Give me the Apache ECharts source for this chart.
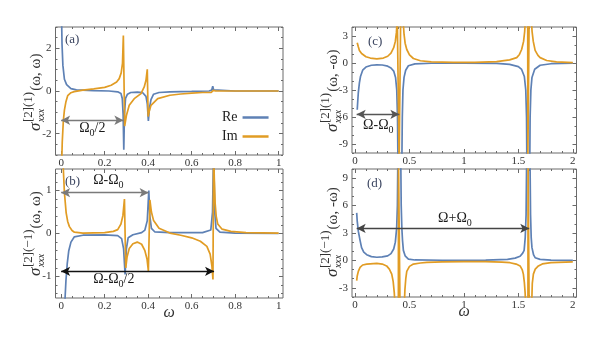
<!DOCTYPE html>
<html><head><meta charset="utf-8">
<script src="https://cdn.jsdelivr.net/npm/echarts@6/dist/echarts.min.js"></script>
<style>html,body{margin:0;padding:0;background:#fff}#c{width:612px;height:339px}</style>
</head><body><div id="c"></div>
<script>
// ---------------- data ----------------
const xTicksAB=[0,0.2,0.4,0.6,0.8,1], xLabelsAB=['0','0.2','0.4','0.6','0.8','1'];
const xTicksCD=[0,0.5,1,1.5,2], xLabelsCD=['0','0.5','1','1.5','2'];
const yTicksA=[-2,0,2], yLabelsA=['-2','0','2'];
const yTicksB=[-1,0,1], yLabelsB=['-1','0','1'];
const yTicksC=[-9,-6,-3,0,3], yLabelsC=['-9','-6','-3','0','3'];
const yTicksD=[-3,0,3,6,9], yLabelsD=['-3','0','3','6','9'];
const seriesNames=['Re','Im'];

const aRe=[[0.001,4],[0.004,2.2],[0.008,1.2],[0.015,0.55],[0.025,0.3],[0.045,0.11],[0.07,0.05],[0.15,0.02],[0.22,0],[0.26,-0.04],[0.275,-0.12],[0.281,-0.35],[0.285,-1.1],[0.288,-2.75],[0.291,-1.1],[0.296,-0.35],[0.305,-0.15],[0.32,-0.07],[0.35,-0.05],[0.375,-0.08],[0.39,-0.25],[0.396,-0.6],[0.401,-1.4],[0.406,-0.8],[0.413,-0.4],[0.425,-0.15],[0.45,-0.07],[0.5,-0.04],[0.6,-0.02],[0.68,0],[0.692,0.04],[0.697,0.22],[0.701,0.05],[0.708,0.01],[0.8,0],[1.0,0]];
const aIm=[[0.001,-4],[0.005,-2.4],[0.01,-1.4],[0.015,-0.9],[0.022,-0.5],[0.03,-0.22],[0.045,-0.08],[0.06,-0.03],[0.1,0.04],[0.15,0.1],[0.2,0.17],[0.23,0.27],[0.255,0.42],[0.267,0.58],[0.276,0.85],[0.282,1.3],[0.286,2.6],[0.292,-1.65],[0.3,-1.15],[0.313,-0.67],[0.336,-0.36],[0.367,-0.12],[0.382,0.19],[0.39,0.5],[0.396,1.02],[0.4,-1.2],[0.405,-0.95],[0.413,-0.67],[0.444,-0.36],[0.5,-0.2],[0.55,-0.14],[0.6,-0.1],[0.65,-0.07],[0.69,-0.06],[0.696,-0.15],[0.7,0.03],[0.71,0],[1.0,0]];

const bRe=[[0.008,-3],[0.012,-2],[0.018,-1.5],[0.022,-1.1],[0.028,-0.7],[0.035,-0.4],[0.045,-0.2],[0.06,-0.08],[0.1,-0.04],[0.2,-0.03],[0.26,-0.05],[0.278,-0.12],[0.287,-0.35],[0.294,-0.95],[0.3,-0.35],[0.308,-0.1],[0.33,-0.03],[0.37,0.02],[0.385,0.08],[0.396,0.3],[0.403,1.0],[0.408,0.4],[0.415,0.12],[0.43,0.04],[0.5,0.02],[0.65,0.02],[0.688,0.08],[0.696,0.5],[0.701,2],[0.706,0.5],[0.712,0.12],[0.73,0.03],[0.8,0.01],[1.0,0]];
const bIm=[[0.006,2],[0.01,1.5],[0.015,0.95],[0.023,0.48],[0.03,0.28],[0.038,0.16],[0.05,0.07],[0.061,0.03],[0.1,0.01],[0.2,0.02],[0.24,0.05],[0.26,0.09],[0.275,0.22],[0.284,0.42],[0.291,0.8],[0.297,-0.8],[0.303,-0.55],[0.313,-0.35],[0.33,-0.24],[0.35,-0.2],[0.37,-0.25],[0.385,-0.4],[0.395,-0.6],[0.401,-0.87],[0.408,0.78],[0.415,0.5],[0.425,0.3],[0.45,0.12],[0.5,0.01],[0.55,-0.04],[0.6,-0.1],[0.64,-0.18],[0.67,-0.3],[0.685,-0.48],[0.693,-0.75],[0.698,-1.07],[0.701,2],[0.704,1.3],[0.708,0.7],[0.713,0.4],[0.72,0.22],[0.74,0.1],[0.78,0.05],[0.85,0.02],[1.0,0.01]];

const cRe=[[0.02,-5.2],[0.025,-4.2],[0.03,-3.3],[0.04,-2.2],[0.05,-1.5],[0.07,-0.8],[0.1,-0.45],[0.15,-0.25],[0.2,-0.2],[0.25,-0.22],[0.3,-0.35],[0.33,-0.55],[0.355,-0.9],[0.372,-1.6],[0.383,-3],[0.39,-6],[0.394,-11],[0.43,-11],[0.434,-6],[0.44,-3],[0.45,-1.6],[0.465,-0.8],[0.49,-0.3],[0.55,-0.1],[0.7,-0.03],[1.0,-0.02],[1.3,-0.05],[1.42,-0.15],[1.5,-0.4],[1.53,-0.72],[1.555,-1.5],[1.568,-3],[1.575,-6],[1.578,-11],[1.605,-11],[1.608,-6],[1.615,-3],[1.625,-1.6],[1.65,-0.7],[1.7,-0.25],[1.8,-0.08],[2.0,-0.02]];
const cIm=[[0.02,2.25],[0.03,1.8],[0.04,1.4],[0.06,1.05],[0.1,0.7],[0.14,0.55],[0.2,0.45],[0.26,0.55],[0.3,0.75],[0.33,1.1],[0.355,1.7],[0.37,2.4],[0.38,3.4],[0.388,5],[0.404,5],[0.405,-11],[0.418,-11],[0.419,5],[0.44,5],[0.45,3.2],[0.46,2.2],[0.475,1.5],[0.5,0.9],[0.536,0.5],[0.6,0.25],[0.7,0.12],[0.9,0.06],[1.1,0.06],[1.3,0.15],[1.42,0.35],[1.485,0.6],[1.51,0.95],[1.53,1.5],[1.548,2.4],[1.558,3.5],[1.565,5],[1.586,5],[1.587,-11],[1.598,-11],[1.599,5],[1.618,5],[1.626,3.5],[1.637,2.4],[1.654,1.4],[1.68,0.85],[1.7,0.6],[1.76,0.28],[1.85,0.12],[2.0,0.05]];

const dRe=[[0.015,5.2],[0.02,4.3],[0.03,3.2],[0.046,2.2],[0.06,1.4],[0.08,0.9],[0.107,0.63],[0.15,0.42],[0.2,0.35],[0.25,0.38],[0.3,0.5],[0.33,0.75],[0.355,1.25],[0.37,2],[0.382,3.5],[0.389,6],[0.393,11],[0.42,11],[0.424,6],[0.43,3.5],[0.436,2.2],[0.444,1.1],[0.46,0.5],[0.49,0.15],[0.55,0.05],[0.8,0.02],[1.2,0.04],[1.4,0.12],[1.47,0.25],[1.516,0.45],[1.54,0.8],[1.553,1.1],[1.563,2.5],[1.571,5],[1.576,11],[1.607,11],[1.612,5],[1.618,2.5],[1.625,1.4],[1.64,0.6],[1.654,0.3],[1.7,0.12],[1.8,0.03],[2.0,0.01]];
const dIm=[[0.015,-2.2],[0.02,-1.7],[0.03,-1.2],[0.046,-0.77],[0.07,-0.5],[0.107,-0.4],[0.2,-0.33],[0.25,-0.4],[0.29,-0.6],[0.315,-0.95],[0.337,-1.5],[0.35,-2.3],[0.36,-3.5],[0.368,-5],[0.398,-5],[0.399,11],[0.412,11],[0.413,-5],[0.452,-5],[0.458,-3.2],[0.466,-2],[0.475,-1.2],[0.5,-0.65],[0.536,-0.4],[0.6,-0.28],[0.66,-0.22],[0.8,-0.15],[1.0,-0.12],[1.2,-0.13],[1.35,-0.18],[1.424,-0.25],[1.48,-0.4],[1.516,-0.6],[1.535,-1],[1.546,-1.5],[1.555,-2.4],[1.562,-3.5],[1.567,-5],[1.588,-5],[1.589,11],[1.598,11],[1.599,-5],[1.622,-5],[1.628,-2.5],[1.638,-1.5],[1.655,-0.95],[1.684,-0.6],[1.72,-0.38],[1.8,-0.25],[2.0,-0.15]];

// arrows: [panel, x0, x1, y, color]
const arrows=[[0,0,0.286,-1.37,'#7a7a7a'],[1,0,0.402,0.95,'#7a7a7a'],[1,0,0.703,-0.88,'#111'],[2,0.015,0.407,-5.7,'#555'],[3,0.015,1.60,3.5,'#444']];
// annotation texts: [panel, x, y (data, left/middle anchor), main1, sub, main2]
const notes=[[0,0.083,-1.74,'Ω','0','/2'],[1,0.147,1.23,'Ω-Ω','0',''],[1,0.147,-1.07,'Ω-Ω','0','/2'],[2,0.074,-6.93,'Ω-Ω','0',''],[3,0.763,4.63,'Ω+Ω','0','']];
const panelTags=['(a)','(b)','(c)','(d)'];
// y titles: [sup, tail]
const yTitles=[['[2](1)','(ω, ω)'],['[2](−1)','(ω, ω)'],['[2](1)','(ω, -ω)'],['[2](−1)','(ω, -ω)']];

// ---------------- layout / style ----------------
const BLUE='#5E81B5', ORANGE='#E19C24', FRAME='#6a6a6a', TXT='#333';
const SERIF='"Liberation Serif","DejaVu Serif",serif';
function steps(a,b,s){const r=[];for(let v=a;v<=b+1e-9;v+=s)r.push(+v.toFixed(4));return r;}
function minorOf(all,major){return all.filter(v=>!major.some(m=>Math.abs(m-v)<1e-9));}

const panels=[
 {grid:{left:55.5,top:27,width:227.5,height:128},xMin:-0.026,xMax:1.02,yMin:-3,yMax:3,xT:xTicksAB,xL:xLabelsAB,xM:minorOf(steps(0,1,0.05),xTicksAB),yT:yTicksA,yL:yLabelsA,yM:minorOf(steps(-3,3,0.5),yTicksA),re:aRe,im:aIm,xName:'',tag:[65,40],title:[36,131]},
 {grid:{left:55.5,top:169,width:227.5,height:129},xMin:-0.026,xMax:1.02,yMin:-1.5,yMax:1.5,xT:xTicksAB,xL:xLabelsAB,xM:minorOf(steps(0,1,0.05),xTicksAB),yT:yTicksB,yL:yLabelsB,yM:minorOf(steps(-1.4,1.4,0.2),yTicksB),re:bRe,im:bIm,xName:'ω',tag:[65,182],title:[36,276]},
 {grid:{left:352,top:27,width:224.5,height:126},xMin:-0.028,xMax:2.034,yMin:-10,yMax:4,xT:xTicksCD,xL:xLabelsCD,xM:minorOf(steps(0,2,0.1),xTicksCD),yT:yTicksC,yL:yLabelsC,yM:minorOf(steps(-10,4,1),yTicksC),re:cRe,im:cIm,xName:'',tag:[368,42],title:[333,132]},
 {grid:{left:352,top:169,width:224.5,height:128},xMin:-0.028,xMax:2.034,yMin:-4,yMax:10,xT:xTicksCD,xL:xLabelsCD,xM:minorOf(steps(0,2,0.1),xTicksCD),yT:yTicksD,yL:yLabelsD,yM:minorOf(steps(-4,10,1),yTicksD),re:dRe,im:dIm,xName:'ω',tag:[367,184],title:[333,277]}
];

const grids=[],xAxes=[],yAxes=[],series=[];
function fmt(ticks,labels){return v=>{const i=ticks.findIndex(t=>Math.abs(t-v)<1e-9);return i>=0?labels[i]:'';};}
panels.forEach((p,gi)=>{
  grids.push(Object.assign({show:true,borderColor:FRAME,borderWidth:1,containLabel:false,outerBoundsMode:'none'},p.grid));
  const base=(min,max)=>({type:'value',gridIndex:gi,min,max,splitLine:{show:false},axisLine:{show:false,onZero:false}});
  const tick=(vals,len)=>({show:true,inside:true,length:len,lineStyle:{color:FRAME,width:1},customValues:vals});
  const lab={fontFamily:SERIF,fontSize:11,color:TXT};
  xAxes.push(Object.assign(base(p.xMin,p.xMax),{position:'bottom',axisTick:tick(p.xT,4),axisLabel:Object.assign({customValues:p.xT,formatter:fmt(p.xT,p.xL),margin:3},lab),
    name:p.xName,nameLocation:'middle',nameGap:7,nameMoveOverlap:false,nameTextStyle:{fontFamily:SERIF,fontSize:16,fontStyle:'italic',color:TXT}}));
  xAxes.push(Object.assign(base(p.xMin,p.xMax),{position:'bottom',axisTick:tick(p.xM,2),axisLabel:{show:false}}));
  xAxes.push(Object.assign(base(p.xMin,p.xMax),{position:'top',axisTick:tick(p.xT,4),axisLabel:{show:false}}));
  xAxes.push(Object.assign(base(p.xMin,p.xMax),{position:'top',axisTick:tick(p.xM,2),axisLabel:{show:false}}));
  yAxes.push(Object.assign(base(p.yMin,p.yMax),{position:'left',axisTick:tick(p.yT,4),axisLabel:Object.assign({customValues:p.yT,formatter:fmt(p.yT,p.yL),margin:4},lab)}));
  yAxes.push(Object.assign(base(p.yMin,p.yMax),{position:'left',axisTick:tick(p.yM,2),axisLabel:{show:false}}));
  yAxes.push(Object.assign(base(p.yMin,p.yMax),{position:'right',axisTick:tick(p.yT,4),axisLabel:{show:false}}));
  yAxes.push(Object.assign(base(p.yMin,p.yMax),{position:'right',axisTick:tick(p.yM,2),axisLabel:{show:false}}));
  const ml=arrows.filter(a=>a[0]===gi).map(a=>[{coord:[a[1],a[3]],lineStyle:{color:a[4],width:1.4,type:'solid'}},{coord:[a[2],a[3]]}]);
  series.push({type:'line',name:seriesNames[0],xAxisIndex:gi*4,yAxisIndex:gi*4,data:p.re,symbol:'none',showSymbol:false,clip:true,
    lineStyle:{color:BLUE,width:1.7},itemStyle:{color:BLUE},z:2,
    markLine:{silent:true,symbol:['arrow','arrow'],symbolSize:[7,9],label:{show:false},emphasis:{disabled:true},data:ml}});
  series.push({type:'line',name:seriesNames[1],xAxisIndex:gi*4,yAxisIndex:gi*4,data:p.im,symbol:'none',showSymbol:false,clip:true,
    lineStyle:{color:ORANGE,width:1.7},itemStyle:{color:ORANGE},z:3});
});

const chart=echarts.init(document.getElementById('c'),null,{renderer:'canvas'});
chart.setOption({animation:false,backgroundColor:'#fff',grid:grids,xAxis:xAxes,yAxis:yAxes,series,
  legend:{data:seriesNames,orient:'vertical',left:217,top:105,align:'right',icon:'rect',itemWidth:26,itemHeight:2.5,itemGap:4,selectedMode:false,
    textStyle:{fontFamily:SERIF,fontSize:14,color:'#222',lineHeight:15}}});

// ---------------- text overlays ----------------
const cv=document.createElement('canvas').getContext('2d');
function tw(font,s){cv.font=font;return cv.measureText(s).width;}
const gfx=[];
// y titles (rotated)
yTitles.forEach((t,i)=>{
  const p=panels[i];
  const fS='italic 17px '+SERIF, fSup='13px '+SERIF, fSub='italic 10px '+SERIF, fT='15px '+SERIF;
  let lx=0; const ch=[];
  ch.push({type:'text',x:lx,y:0,style:{text:'σ',font:fS,fill:TXT,verticalAlign:'middle'}});
  lx+=tw(fS,'σ')+0.5;
  ch.push({type:'text',x:lx,y:-7,style:{text:t[0],font:fSup,fill:TXT,verticalAlign:'middle'}});
  ch.push({type:'text',x:lx,y:5.5,style:{text:'xxx',font:fSub,fill:TXT,verticalAlign:'middle'}});
  lx+=Math.max(tw(fSup,t[0]),tw(fSub,'xxx'))+1;
  ch.push({type:'text',x:lx,y:0,style:{text:t[1],font:fT,fill:TXT,verticalAlign:'middle'}});
  gfx.push({type:'group',x:p.title[0],y:p.title[1],rotation:Math.PI/2,children:ch,silent:true});
  gfx.push({type:'text',x:p.tag[0],y:p.tag[1],style:{text:panelTags[i],font:'13px '+SERIF,fill:'#3b4560',verticalAlign:'middle'},silent:true});
});
// annotation labels
notes.forEach(n=>{
  const px=chart.convertToPixel({xAxisIndex:n[0]*4,yAxisIndex:n[0]*4},[n[1],n[2]]);
  const fM='14px '+SERIF, fB='10px '+SERIF;
  let x=px[0];
  gfx.push({type:'text',x,y:px[1],style:{text:n[3],font:fM,fill:'#1a1a1a',verticalAlign:'middle'},silent:true});
  x+=tw(fM,n[3]);
  gfx.push({type:'text',x,y:px[1]+5,style:{text:n[4],font:fB,fill:'#1a1a1a',verticalAlign:'middle'},silent:true});
  x+=tw(fB,n[4]);
  if(n[5])gfx.push({type:'text',x,y:px[1],style:{text:n[5],font:fM,fill:'#1a1a1a',verticalAlign:'middle'},silent:true});
});
chart.setOption({graphic:gfx});
</script></body></html>
